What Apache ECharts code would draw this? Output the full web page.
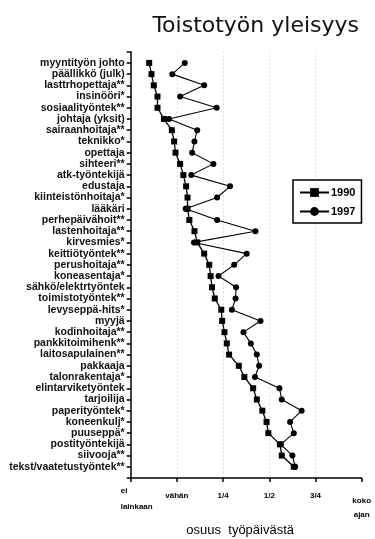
<!DOCTYPE html>
<html>
<head>
<meta charset="utf-8">
<script src="https://cdn.jsdelivr.net/npm/echarts@6/dist/echarts.min.js"></script>
<style>html,body{margin:0;padding:0;background:#fff;}#c{width:375px;height:539px;}</style>
</head>
<body>
<div id="c"></div>
<script>
const categories = ['myyntityön johto','päällikkö (julk)','lasttrhopettaja**','insinööri*','sosiaalityöntek**','johtaja (yksit)','sairaanhoitaja**','teknikko*','opettaja','sihteeri**','atk-työntekijä','edustaja','kiinteistönhoitaja*','lääkäri','perhepäivähoit**','lastenhoitaja**','kirvesmies*','keittiötyöntek**','perushoitaja**','koneasentaja*','sähkö/elektrtyöntek','toimistotyöntek**','levyseppä-hits*','myyjä','kodinhoitaja**','pankkitoimihenk**','laitosapulainen**','pakkaaja','talonrakentaja*','elintarviketyöntek','tarjoilija','paperityöntek*','koneenkulj*','puuseppä*','postityöntekijä','siivooja**','tekst/vaatetustyöntek**'];
const values1990 = [0.40,0.45,0.50,0.58,0.58,0.72,0.89,0.94,0.97,1.07,1.14,1.20,1.23,1.23,1.27,1.38,1.44,1.59,1.70,1.73,1.76,1.82,1.96,1.98,2.03,2.08,2.13,2.34,2.46,2.65,2.73,2.85,2.94,2.98,3.23,3.27,3.53];
const values1997 = [1.17,0.90,1.59,1.07,1.86,0.83,1.44,1.38,1.33,1.79,1.31,2.15,1.87,1.19,1.87,2.70,1.37,2.51,2.24,1.90,2.28,2.27,2.19,2.81,2.44,2.60,2.73,2.78,2.69,3.22,3.27,3.70,3.45,3.53,3.25,3.50,3.56];
const xTickLabels = ['ei|lainkaan','vähän','1/4','1/2','3/4','koko|ajan'];
const seriesNames = ['1990','1997'];
const titleText = 'Toistotyön yleisyys';
const xAxisTitle = 'osuus  työpäivästä';

const chart = echarts.init(document.getElementById('c'), null, {renderer:'canvas'});
const yCats = [''].concat(categories).concat(['']);
const font = '"Liberation Sans", Arial, sans-serif';
const option = {
  animation: false,
  backgroundColor: '#fff',
  title: {
    text: titleText, right: 11, top: 10,
    textStyle: {fontFamily: '"DejaVu Sans", sans-serif', fontSize: 22, fontWeight: 'normal', color: '#111'}
  },
  legend: {
    orient: 'vertical', left: 293, top: 180,
    padding: [7, 6, 6, 6], itemGap: 8,
    itemWidth: 29, itemHeight: 11,
    borderColor: '#000', borderWidth: 1.5,
    textStyle: {fontFamily: font, fontSize: 11, fontWeight: 'bold', color: '#000', padding: [0,0,0,-3]},
    data: seriesNames
  },
  grid: {left: 130.7, right: 13.3, top: 51.7, bottom: 61, containLabel: false, outerBoundsMode: 'none'},
  xAxis: {
    type: 'value', min: 0, max: 5, interval: 1,
    axisLine: {show: true, lineStyle: {color: '#000', width: 1.5}},
    axisTick: {show: true, length: 4, lineStyle: {color: '#000', width: 1.5}},
    splitLine: {show: true, showMinLine: false, showMaxLine: false, lineStyle: {type: [1, 3], color: '#c4c4c4', width: 1}},
    axisLabel: {
      margin: 5, color: '#000', fontFamily: font, fontSize: 8, fontWeight: 'bold',
      formatter: function (v) {
        const t = xTickLabels[Math.round(v)] || '';
        if (v === 0) { const p = t.split('|'); return '{a|' + p[0] + '}\n{a|' + p[1] + '}'; }
        if (v === 5) { const p = t.split('|'); return '{s| }\n{c|' + p[0] + '}\n{c|' + p[1] + '}'; }
        return '{b|' + t + '}';
      },
      rich: {
        a: {fontFamily: font, fontSize: 8, fontWeight: 'bold', lineHeight: 16, padding: [0, 0, 0, 12], align: 'left'},
        b: {fontFamily: font, fontSize: 8, fontWeight: 'bold', lineHeight: 26},
        s: {fontFamily: font, fontSize: 4, lineHeight: 11},
        c: {fontFamily: font, fontSize: 8, fontWeight: 'bold', lineHeight: 14}
      }
    },
    name: xAxisTitle, nameLocation: 'middle', nameGap: 45,
    nameTextStyle: {fontFamily: font, fontSize: 13, color: '#000', padding: [0, 12, 0, 0]}
  },
  yAxis: {
    type: 'category', data: yCats, inverse: true, boundaryGap: false,
    axisLine: {show: true, lineStyle: {color: '#000', width: 1.5}},
    axisTick: {show: true, length: 4, interval: 0, lineStyle: {color: '#000', width: 1.5}},
    splitLine: {show: false},
    axisLabel: {interval: 0, margin: 6, color: '#111', fontFamily: font, fontSize: 10.5, fontWeight: 'bold'}
  },
  series: [
    {
      name: seriesNames[0], type: 'line',
      data: categories.map((c, i) => [values1990[i], c]),
      symbol: 'rect', symbolSize: 6,
      itemStyle: {color: '#000'},
      lineStyle: {color: '#000', width: 1.3},
      z: 3
    },
    {
      name: seriesNames[1], type: 'line',
      data: categories.map((c, i) => [values1997[i], c]),
      symbol: 'circle', symbolSize: 6,
      itemStyle: {color: '#000'},
      lineStyle: {color: '#000', width: 1.1},
      z: 2
    }
  ]
};
chart.setOption(option);
</script>
</body>
</html>
